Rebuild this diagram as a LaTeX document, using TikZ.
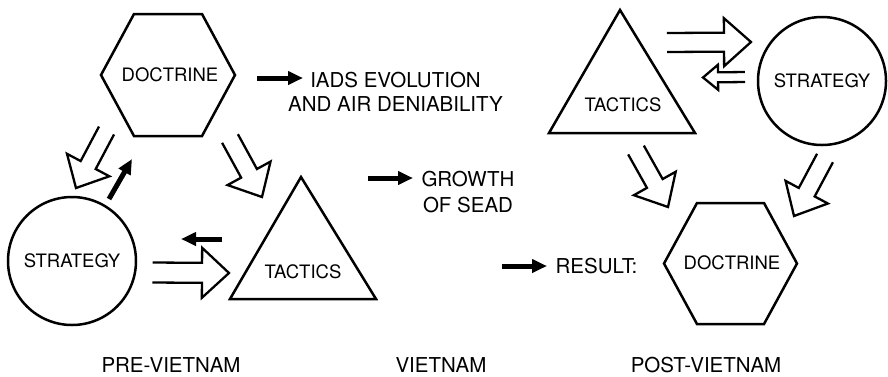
\documentclass[tikz,border=0pt]{standalone}
\usepackage{fontspec}
\setmainfont{TeX Gyre Heros}
\usetikzlibrary{calc,arrows.meta}
\newcommand{\hollowarrow}[5]{%
  \path ($(#2)!#5!(#1)$) coordinate (hn);
  \draw[hollow] ($(#1)!#3!90:(#2)$) -- ($(hn)!#3!90:(#2)$) -- ($(hn)!#4!90:(#2)$) -- (#2)
    -- ($(hn)!#4!-90:(#2)$) -- ($(hn)!#3!-90:(#2)$) -- ($(#1)!#3!-90:(#2)$);
}
\tikzset{
  shapeline/.style={draw=black, line width=2.5pt, line join=miter},
  shapetxt/.style={font=\fontsize{18.5}{22}\selectfont, inner sep=0pt},
  lbl/.style={font=\fontsize{20.5}{24}\selectfont, inner sep=0pt, align=center},
  hollow/.style={draw=black, line width=2.3pt, line join=miter},
  solidarr/.style={draw=black, line width=5pt, -{Triangle[length=15pt,width=13pt]}},
  circnode/.style={circle, draw=black, line width=2.5pt, minimum size=128pt, inner sep=0pt,
    font=\fontsize{18.5}{22}\selectfont},
}
\begin{document}
\begin{tikzpicture}[x=1pt,y=-1pt]
\fill[white] (0,0) rectangle (888,376);
\useasboundingbox (0,0) rectangle (888,376);

% ---------- PRE-VIETNAM ----------
\node[shapetxt] (doc1) at (170,75) {DOCTRINE};
\draw[shapeline] (134,14) -- (202,14) -- (235,75) -- (202,136) -- (134,136) -- (101,75) -- cycle;
\node[circnode] (str1) at (72,261) {STRATEGY};
\node[shapetxt] (tac1) at (303,272) {TACTICS};
\draw[shapeline] (301,177) -- (376,299) -- (230,299) -- cycle;

\coordinate (a1s) at (106.5,130.5); \coordinate (a1e) at (76,188);
\hollowarrow{a1s}{a1e}{8.5pt}{24pt}{26pt}
\coordinate (a3s) at (230,138.5); \coordinate (a3e) at (262,197);
\hollowarrow{a3s}{a3e}{9pt}{24.5pt}{27pt}
\coordinate (a4s) at (152.5,272.5); \coordinate (a4e) at (229,273);
\hollowarrow{a4s}{a4e}{10pt}{25pt}{27pt}

\coordinate (s1s) at (109,199); \coordinate (s1e) at (132,159);
\draw[solidarr] (s1s) -- (s1e);
\coordinate (s2s) at (222,239); \coordinate (s2e) at (181,239);
\draw[solidarr] (s2s) -- (s2e);

% ---------- labels ----------
\node[lbl] (iads) at (395.5,91.5) {IADS EVOLUTION\\AND AIR DENIABILITY};
\coordinate (l1s) at (257,78); \coordinate (l1e) at (303,78);
\draw[solidarr] (l1s) -- (l1e);
\node[lbl] (sead) at (468,192) {GROWTH\\[2pt]OF SEAD};
\coordinate (l2s) at (368,178); \coordinate (l2e) at (413,178);
\draw[solidarr] (l2s) -- (l2e);
\node[lbl] (res) at (596.5,266) {RESULT:};
\coordinate (l3s) at (502,266); \coordinate (l3e) at (547,266);
\draw[solidarr] (l3s) -- (l3e);

% ---------- POST-VIETNAM ----------
\node[shapetxt] (tac2) at (623,105) {TACTICS};
\draw[shapeline] (620,10) -- (695,133) -- (549,133) -- cycle;
\node[circnode] (str2) at (822,81) {STRATEGY};
\node[shapetxt] (doc2) at (732,263) {DOCTRINE};
\draw[shapeline] (697,203) -- (764,203) -- (797,263.5) -- (764,324) -- (697,324) -- (664,263.5) -- cycle;

\coordinate (a6s) at (667,42.5); \coordinate (a6e) at (751,42);
\hollowarrow{a6s}{a6e}{9.5pt}{24pt}{27pt}
\coordinate (a7s) at (745,77); \coordinate (a7e) at (703,77.5);
\hollowarrow{a7s}{a7e}{5pt}{12.5pt}{15pt}
\coordinate (a8s) at (636,150); \coordinate (a8e) at (668,207);
\hollowarrow{a8s}{a8e}{9pt}{24pt}{27pt}
\coordinate (a9s) at (825,158); \coordinate (a9e) at (794,216);
\hollowarrow{a9s}{a9e}{9pt}{24pt}{27pt}

% ---------- period labels ----------
\node[lbl] (pre) at (171,365) {PRE-VIETNAM};
\node[lbl] (viet) at (441,365) {VIETNAM};
\node[lbl] (post) at (706,365) {POST-VIETNAM};
\end{tikzpicture}
\end{document}
